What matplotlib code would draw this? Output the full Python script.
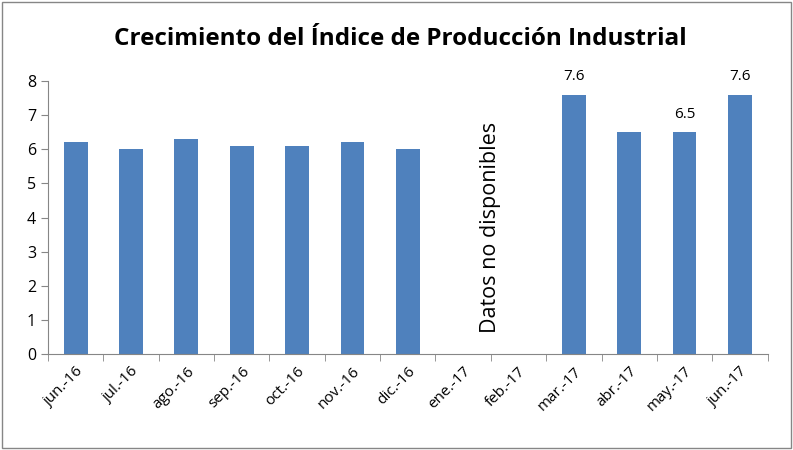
import numpy as np
import matplotlib.pyplot as plt
from matplotlib.patches import Rectangle

months = ['jun.-16', 'jul.-16', 'ago.-16', 'sep.-16', 'oct.-16', 'nov.-16', 'dic.-16',
          'ene.-17', 'feb.-17', 'mar.-17', 'abr.-17', 'may.-17', 'jun.-17']
growth = [6.2, 6.0, 6.3, 6.1, 6.1, 6.2, 6.0, np.nan, np.nan, 7.6, 6.5, 6.5, 7.6]
labelled = {'mar.-17': 7.6, 'may.-17': 6.5, 'jun.-17': 7.6}

plt.rcParams['font.family'] = ['Open Sans', 'DejaVu Sans']

fig = plt.figure(figsize=(7.93, 4.5), dpi=100)
ax = fig.add_axes([0.0605, 0.2133, 0.9075, 0.6067])

x = np.arange(len(months))
ax.bar(x, growth, width=0.43, color='#4f81bd')

for i, m in enumerate(months):
    if m in labelled:
        ax.text(i, labelled[m] + 0.3, f'{labelled[m]:.1f}', ha='center', va='bottom', fontsize=11)

ax.text(7.5, 3.7, 'Datos no disponibles', rotation=90, ha='center', va='center', fontsize=15.5)

ax.set_xlim(-0.5, len(months) - 0.5)
ax.set_ylim(0, 8)
ax.set_yticks(range(0, 9))
ax.set_xticks(x)
ax.set_xticklabels(months, rotation=45, ha='right', rotation_mode='anchor', fontsize=11)
ax.set_xticks(np.arange(-0.5, len(months)), minor=True)
ax.tick_params(axis='x', which='major', length=0, pad=7)
ax.tick_params(axis='x', which='minor', length=5, color='#868686')
ax.tick_params(axis='y', length=5, color='#868686', labelsize=11.5)

for s in ['top', 'right']:
    ax.spines[s].set_visible(False)
for s in ['left', 'bottom']:
    ax.spines[s].set_color('#868686')

fig.suptitle('Crecimiento del Índice de Producción Industrial', x=0.505, y=0.94,
             fontsize=17.5, fontweight='bold')

fig.patches.append(Rectangle((0.003, 0.005), 0.994, 0.99, transform=fig.transFigure,
                             fill=False, edgecolor='#868686', linewidth=1))

fig.savefig('out.png', dpi=100)
